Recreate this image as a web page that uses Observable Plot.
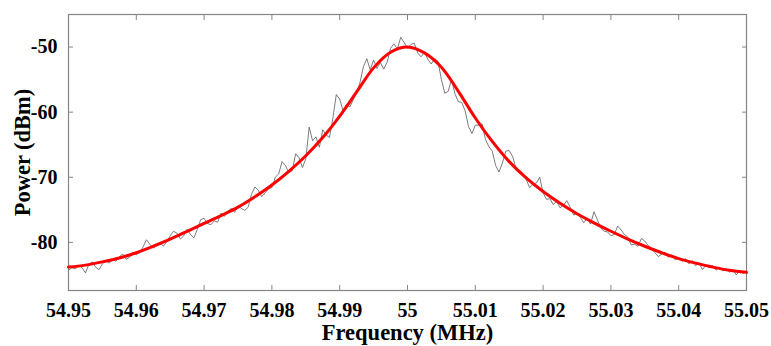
<!DOCTYPE html>
<html>
<head>
<meta charset="utf-8">
<script src="https://cdn.jsdelivr.net/npm/d3@7"></script>
<script src="https://cdn.jsdelivr.net/npm/@observablehq/plot@0.6"></script>
<style>
  html, body { margin: 0; padding: 0; background: #fff; }
</style>
</head>
<body>
<div id="chart"></div>
<script>
// Frequency grid start/step (MHz) for the measured trace
const measuredStart = 54.95;
const measuredStep = 0.0005;
// Measured (noisy) spectrum, dBm
const measuredPower = [
  -84.3, -83.9, -84.1, -83.5, -83.9, -84.7, -83.4, -83.0, -83.8, -84.2,
  -83.3, -82.8, -83.2, -82.6, -82.9, -82.2, -81.8, -82.6, -82.3, -81.5,
  -81.9, -81.6, -80.7, -79.6, -80.3, -80.9, -80.5, -80.0, -80.6, -79.9,
  -79.0, -78.3, -78.6, -79.5, -79.0, -78.0, -78.8, -79.3, -78.0, -76.5,
  -76.3, -77.1, -77.3, -76.7, -76.9, -75.5, -76.0, -75.2, -74.8, -75.4,
  -74.4, -74.8, -75.1, -74.6, -72.6, -71.5, -72.0, -73.0, -72.4, -71.8,
  -71.6, -70.0, -69.5, -67.6, -68.2, -69.3, -69.0, -66.4, -67.0, -68.5,
  -67.2, -62.3, -64.4, -63.8, -65.4, -62.7, -63.5, -63.9, -60.9, -57.3,
  -58.0, -59.8, -58.8, -59.2, -58.1, -57.0, -55.4, -53.0, -51.8, -53.5,
  -52.0, -53.3, -52.4, -53.4, -52.3, -50.2, -49.5, -50.3, -48.5, -49.3,
  -50.2, -49.6, -49.4, -50.9, -51.5, -50.8, -51.9, -52.6, -51.8, -52.2,
  -55.0, -57.1, -56.8, -55.0, -57.2, -58.4, -58.5, -59.8, -62.2, -63.3,
  -62.0, -62.0, -61.8, -64.2, -65.3, -66.0, -68.2, -69.2, -67.8, -66.0,
  -65.9, -66.8, -68.6, -68.9, -69.5, -70.3, -71.6, -71.0, -70.9, -70.0,
  -72.4, -73.4, -73.3, -74.2, -73.7, -74.7, -74.3, -73.6, -74.6, -75.8,
  -75.6, -76.2, -77.0, -76.3, -77.2, -75.3, -76.5, -77.8, -78.3, -78.4,
  -79.0, -78.8, -77.5, -78.1, -78.8, -79.2, -80.4, -80.3, -80.6, -79.4,
  -79.8, -80.5, -80.9, -81.6, -82.2, -81.8, -81.5, -82.3, -81.9, -82.7,
  -82.4, -82.9, -82.5, -83.3, -82.8, -83.6, -83.1, -84.2, -83.5, -83.9,
  -83.6, -84.3, -83.8, -84.4, -84.0, -84.6, -84.2, -85.0, -84.3, -84.8,
  -84.5
];

// Fitted (Lorentzian) curve, sampled
const fitFrequency = [
  54.9500, 54.9525, 54.9550, 54.9575, 54.9600, 54.9625, 54.9650, 54.9675,
  54.9700, 54.9725, 54.9750, 54.9775, 54.9800, 54.9825, 54.9850, 54.9875,
  54.9900, 54.9925, 54.9950, 54.9975, 55.0000, 55.0025, 55.0050, 55.0075,
  55.0100, 55.0125, 55.0150, 55.0175, 55.0200, 55.0225, 55.0250, 55.0275,
  55.0300, 55.0325, 55.0350, 55.0375, 55.0400, 55.0425, 55.0450, 55.0475,
  55.0500
];
const fitPower = [
  -83.8, -83.5, -83.0, -82.4, -81.6, -80.6, -79.5, -78.3,
  -77.1, -75.9, -74.6, -73.0, -71.2, -69.1, -66.7, -63.9,
  -60.6, -56.9, -53.2, -50.8, -50.0, -50.9, -53.1, -56.8,
  -60.9, -64.5, -67.6, -70.1, -72.2, -74.0, -75.6, -77.0,
  -78.3, -79.5, -80.6, -81.6, -82.5, -83.2, -83.8, -84.3,
  -84.6
];

// Axis ticks and labels
const xTicks = [54.95, 54.96, 54.97, 54.98, 54.99, 55.00, 55.01, 55.02, 55.03, 55.04, 55.05];
const xTickLabels = ["54.95", "54.96", "54.97", "54.98", "54.99", "55", "55.01", "55.02", "55.03", "55.04", "55.05"];
const yTicks = [-80, -70, -60, -50];
const yTickLabels = ["-80", "-70", "-60", "-50"];
const xDomain = [54.95, 55.05];
const yDomain = [-87.4, -45];
const xLabel = "Frequency (MHz)";
const yLabel = "Power (dBm)";

const measured = measuredPower.map((p, i) => ({f: measuredStart + i * measuredStep, p}));
const fit = fitFrequency.map((f, i) => ({f, p: fitPower[i]}));

const frameColor = "#858585";
const font = "'Liberation Serif', 'Times New Roman', serif";

const chart = Plot.plot({
  width: 771,
  height: 346,
  marginLeft: 68,
  marginRight: 25,
  marginTop: 14,
  marginBottom: 56,
  style: {fontFamily: font, fontWeight: "bold", fontSize: "20px", color: "#000", background: "#fff"},
  x: {domain: xDomain},
  y: {domain: yDomain},
  marks: [
    Plot.frame({stroke: frameColor, strokeWidth: 1.2}),
    Plot.axisX(xTicks, {anchor: "bottom", tickSize: -5, tickPadding: 17, stroke: frameColor, fill: "#000",
      tickFormat: (d, i) => xTickLabels[i], label: null, fontSize: 20}),
    Plot.axisX(xTicks, {anchor: "top", tickSize: -5, stroke: frameColor, tickFormat: () => "", label: null}),
    Plot.axisY(yTicks, {anchor: "left", tickSize: -5, tickPadding: 16, stroke: frameColor, fill: "#000",
      tickFormat: (d, i) => yTickLabels[i], label: null, fontSize: 20}),
    Plot.axisY(yTicks, {anchor: "right", tickSize: -5, stroke: frameColor, tickFormat: () => "", label: null}),
    Plot.line(measured, {x: "f", y: "p", stroke: "#5a5a5a", strokeWidth: 0.8}),
    Plot.line(fit, {x: "f", y: "p", stroke: "#ff0000", strokeWidth: 3, curve: "catmull-rom"}),
    Plot.text([xLabel], {text: d => d, frameAnchor: "bottom", lineAnchor: "middle", textAnchor: "middle",
      dy: 42, fontSize: 22.5, fontWeight: "bold", fill: "#000"}),
    Plot.text([yLabel], {text: d => d, frameAnchor: "left", lineAnchor: "middle", textAnchor: "middle",
      dx: -46, rotate: -90, fontSize: 22.5, fontWeight: "bold", fill: "#000"})
  ]
});
document.getElementById("chart").appendChild(chart);
</script>
</body>
</html>
